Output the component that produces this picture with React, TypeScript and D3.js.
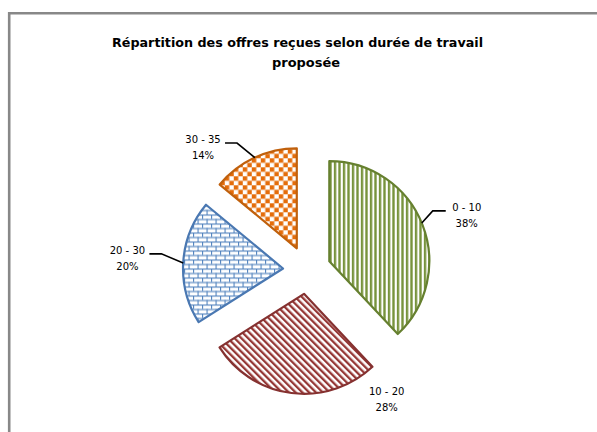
import React from "react";
import * as d3 from "d3";

const categories = ["0 - 10", "10 - 20", "20 - 30", "30 - 35"];
const shares = [38, 28, 20, 14];
const titleLines = ["Répartition des offres reçues selon durée de travail", "proposée"];

const W = 597;
const H = 432;
const FONT = "'Century Gothic', 'DejaVu Sans', sans-serif";

// layout (not data)
const center = { x: 307, y: 270 };
const radius = 100;
const explode = 24;
// label placement relative to each exploded slice apex: angle (deg, clockwise from top), distance
const labelPlace = [
  { a: 71.4, r: 145, leader: 67.6, side: "left" },
  { a: 141.9, r: 134, leader: null, side: "none" },
  { a: 273.9, r: 156, leader: 273.2, side: "right" },
  { a: 317.2, r: 138, leader: 335.2, side: "right" },
];

const fills = ["url(#pGreen)", "url(#pRed)", "url(#pBlue)", "url(#pOrange)"];
const strokes = ["#66802F", "#853130", "#4A78B2", "#C0600C"];

const polar = (cx: number, cy: number, deg: number, r: number) => {
  const t = (deg * Math.PI) / 180;
  return [cx + r * Math.sin(t), cy - r * Math.cos(t)];
};

export default function App() {
  const pie = d3.pie<number>().sort(null).startAngle(0).endAngle(2 * Math.PI);
  const arcs = pie(shares);
  const arcGen = d3.arc<d3.PieArcDatum<number>>().innerRadius(0).outerRadius(radius);
  const total = d3.sum(shares);

  return (
    <svg width={W} height={H} style={{ position: "absolute", left: 0, top: 0, background: "#fff" }}>
      <defs>
        <pattern id="pGreen" patternUnits="userSpaceOnUse" width={4.5} height={4.5}>
          <rect width={4.5} height={4.5} fill="#fff" />
          <rect x={0} width={2.4} height={4.5} fill="#77933C" />
        </pattern>
        <pattern id="pRed" patternUnits="userSpaceOnUse" width={4.8} height={4.8} patternTransform="rotate(-45)">
          <rect width={4.8} height={4.8} fill="#fff" />
          <rect x={0} width={2.3} height={4.8} fill="#953735" />
        </pattern>
        <pattern id="pBlue" patternUnits="userSpaceOnUse" width={9} height={9}>
          <rect width={9} height={9} fill="#fff" />
          <rect x={0} y={0} width={9} height={1.1} fill="#4F81BD" />
          <rect x={0} y={4.5} width={9} height={1.1} fill="#4F81BD" />
          <rect x={0} y={0} width={1.1} height={4.5} fill="#4F81BD" />
          <rect x={4.5} y={4.5} width={1.1} height={4.5} fill="#4F81BD" />
        </pattern>
        <pattern id="pOrange" patternUnits="userSpaceOnUse" width={9} height={9}>
          <rect width={9} height={9} fill="#fff" />
          <rect x={0} y={0} width={4.5} height={4.5} fill="#E46C0A" />
          <rect x={4.5} y={4.5} width={4.5} height={4.5} fill="#E46C0A" />
        </pattern>
      </defs>

      {/* chart frame */}
      <line x1={9.2} y1={12} x2={9.2} y2={H} stroke="#888" strokeWidth={2.6} />
      <line x1={8} y1={13.2} x2={W} y2={13.2} stroke="#888" strokeWidth={2.6} />

      {/* title */}
      <text x={112} y={47} fontFamily={FONT} fontWeight="bold" fontSize={12.5} textLength={371} lengthAdjust="spacingAndGlyphs" fill="#000">
        {titleLines[0]}
      </text>
      <text x={272} y={67} fontFamily={FONT} fontWeight="bold" fontSize={12.5} textLength={68} lengthAdjust="spacingAndGlyphs" fill="#000">
        {titleLines[1]}
      </text>

      {arcs.map((a, i) => {
        const mid = ((a.startAngle + a.endAngle) / 2) * (180 / Math.PI);
        const [ax, ay] = polar(center.x, center.y, mid, explode);
        const lp = labelPlace[i];
        const [lx, ly] = polar(ax, ay, lp.a, lp.r);
        const pct = Math.round((a.data / total) * 100) + "%";
        let leader = null;
        if (lp.leader !== null) {
          const [sx, sy] = polar(ax, ay, lp.leader, radius);
          const ey = ly - 4;
          const halfW = 17;
          const ex = lp.side === "left" ? lx - halfW - 4 : lx + halfW + 5;
          const bx = lp.side === "left" ? ex - 13 : ex + 12;
          leader = (
            <polyline
              points={`${sx},${sy} ${bx},${ey} ${ex},${ey}`}
              fill="none"
              stroke="#000"
              strokeWidth={1.6}
            />
          );
        }
        return (
          <g key={categories[i]}>
            <path
              d={arcGen(a) || ""}
              transform={`translate(${ax},${ay})`}
              fill={fills[i]}
              stroke={strokes[i]}
              strokeWidth={2.2}
              strokeLinejoin="round"
            />
            {leader}
            <text x={lx} y={ly - 4} textAnchor="middle" fontFamily={FONT} fontSize={10} fill="#000">
              {categories[i]}
            </text>
            <text x={lx} y={ly + 12} textAnchor="middle" fontFamily={FONT} fontSize={10} fill="#000">
              {pct}
            </text>
          </g>
        );
      })}
    </svg>
  );
}
